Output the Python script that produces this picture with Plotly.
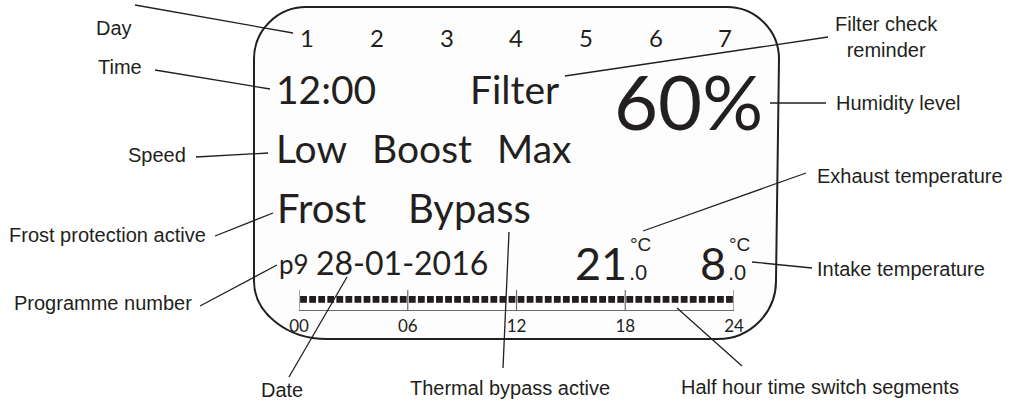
import plotly.graph_objects as go

W, H = 1019, 405

# ---------------- data (display readings) ----------------
days = ["1", "2", "3", "4", "5", "6", "7"]
time_text = "12:00"
filter_text = "Filter"
humidity_text = "60%"
speed_words = ["Low", "Boost", "Max"]
status_words = ["Frost", "Bypass"]
programme_text = "p9"
date_text = "28-01-2016"
exhaust_temp = ["21", ".0"]
intake_temp = ["8", ".0"]
temp_unit = "°C"
hour_ticks = [0, 6, 12, 18, 24]
hour_labels = ["00", "06", "12", "18", "24"]
segment_state = [1, 1, 1, 1, 1, 1, 1, 1, 1, 1, 1, 1,
                 1, 1, 1, 1, 1, 1, 1, 1, 1, 1, 1, 1,
                 1, 1, 1, 1, 1, 1, 1, 1, 1, 1, 1, 1,
                 1, 1, 1, 1, 1, 1, 1, 1, 1, 1, 1, 1]
callout_labels = ["Day", "Time", "Speed", "Frost protection active",
                  "Programme number", "Date", "Thermal bypass active",
                  "Half hour time switch segments", "Intake temperature",
                  "Exhaust temperature", "Humidity level",
                  "Filter check<br>reminder"]

# ---------------- layout (pixel positions) ----------------
day_x = [307, 377, 447, 516, 586, 656, 725]
day_y = 37.5
callout_text_pos = [(114, 28), (120, 67), (157, 155), (107, 235),
                    (103, 303), (282, 390), (510, 388), (820, 387),
                    (901, 269), (910, 176), (898, 103), (886, 37)]
callout_lines = [((135, 5), (293, 33)), ((155, 70), (270, 89)),
                 ((196, 157), (268, 153)), ((215, 236), (273, 213)),
                 ((200, 306), (277, 265)), ((289, 377), (347, 277)),
                 ((503, 368), (509, 232)), ((742, 366), (677, 308)),
                 ((752, 262), (812, 268)), ((643, 231), (806, 173)),
                 ((770, 103), (826, 103)), ((565, 76), (828, 37))]

INK = "#231f20"
TICK = "#6b6b6b"
LCD = "Lato, 'Open Sans', sans-serif"
LBL = "'Liberation Sans', Arial, sans-serif"

fig = go.Figure()

# time-switch segments on a real hour axis
seg_x = [i * 0.5 + 0.25 for i, s in enumerate(segment_state) if s]
seg_y = [0.53 for s in segment_state if s]
fig.add_trace(go.Scatter(
    x=seg_x, y=seg_y, xaxis="x2", yaxis="y2", mode="markers",
    marker=dict(symbol="square", size=6.8, color=INK, line=dict(width=0)),
    hoverinfo="skip", showlegend=False))

# invisible trace to hold pixel axes
fig.add_trace(go.Scatter(x=[0, W], y=[0, H], mode="markers",
                         marker=dict(opacity=0), hoverinfo="skip",
                         showlegend=False))

shapes = []
# display outline (rounded rectangle)
L, R, T, B = 254, 779, 7, 339
r_top, r_bot = 52, 58
k = 0.55
path = (f"M {L+r_top},{T} L {R-r_top},{T} "
        f"C {R-r_top+k*r_top},{T} {R},{T+r_top-k*r_top} {R},{T+r_top} "
        f"L {R-3},{B-r_bot} "
        f"C {R-3},{B-r_bot+k*r_bot} {R-3-r_bot+k*r_bot},{B} {R-3-r_bot},{B} "
        f"L {L+r_bot+15},{B} "
        f"C {L+r_bot+15-k*(r_bot+15)},{B} {L},{B-r_bot+k*r_bot} {L},{B-r_bot} "
        f"L {L},{T+r_top} "
        f"C {L},{T+r_top-k*r_top} {L+r_top-k*r_top},{T} {L+r_top},{T} Z")
shapes.append(dict(type="path", path=path, xref="x", yref="y",
                   line=dict(color=INK, width=2), fillcolor="#fdfdfd",
                   layer="below"))
# hour dividers of the time-switch bar
for hv in hour_ticks:
    shapes.append(dict(type="line", x0=hv, x1=hv, y0=0, y1=1.0,
                       xref="x2", yref="y2",
                       line=dict(color=TICK, width=1.2)))
for (x0, y0), (x1, y1) in callout_lines:
    shapes.append(dict(type="line", x0=x0, y0=y0, x1=x1, y1=y1,
                       xref="x", yref="y", line=dict(color=INK, width=1.3)))

ann = []

def txt(s, x, y, size, font=LCD, xa="left", ya="middle"):
    ann.append(dict(text=s, x=x, y=y, xref="x", yref="y", showarrow=False,
                    xanchor=xa, yanchor=ya, borderpad=0,
                    font=dict(family=font, size=size, color=INK)))

for d, x in zip(days, day_x):
    txt(d, x, day_y, 24, xa="center")
txt(time_text, 275, 89, 39)
txt(filter_text, 469, 89, 39)
txt(humidity_text, 688, 100, 76, xa="center")
for w_, x in zip(speed_words, [275, 371, 496]):
    txt(w_, x, 148, 39)
for w_, x in zip(status_words, [276, 407]):
    txt(w_, x, 208, 40)
txt(programme_text, 278, 264, 26)
txt(date_text, 315, 262, 32)
txt(exhaust_temp[0], 628, 263, 45, xa="right")
txt(exhaust_temp[1], 628, 272, 22, font=LBL)
txt(temp_unit, 629, 244, 19, font=LBL)
txt(intake_temp[0], 727, 263, 45, xa="right")
txt(intake_temp[1], 727, 272, 22, font=LBL)
txt(temp_unit, 728, 244, 19, font=LBL)

for s, (x, y) in zip(callout_labels, callout_text_pos):
    txt(s, x, y, 20, font=LBL, xa="center")

fig.update_layout(
    width=W, height=H, margin=dict(l=0, r=0, t=0, b=0, autoexpand=False),
    paper_bgcolor="white", plot_bgcolor="white",
    xaxis=dict(range=[0, W], visible=False, domain=[0, 1]),
    yaxis=dict(range=[H, 0], visible=False, domain=[0, 1]),
    xaxis2=dict(range=[0, 24], domain=[299 / W, 734 / W], anchor="y2",
                showline=True, linecolor=TICK, linewidth=1.2,
                ticks="", tickvals=hour_ticks, ticktext=hour_labels,
                showgrid=False, zeroline=False,
                tickfont=dict(family=LCD, size=17, color=INK)),
    yaxis2=dict(range=[0, 1], domain=[(H - 310) / H, (H - 290) / H],
                anchor="x2", visible=False),
    shapes=shapes, annotations=ann, showlegend=False,
)

fig.write_html("out.html", config={"displayModeBar": False},
               post_script="document.body.style.margin='0';"
                           "document.body.style.overflow='hidden';")
